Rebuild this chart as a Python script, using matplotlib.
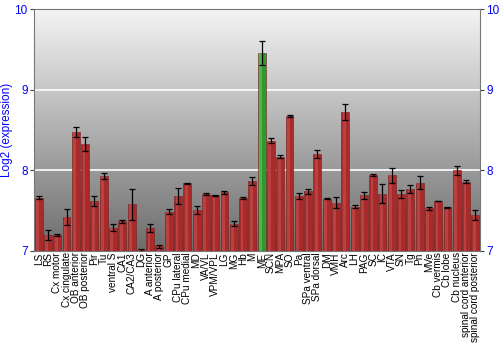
import numpy as np
import matplotlib
matplotlib.use("Agg")
import matplotlib.pyplot as plt

# -----------------------------
# Data
# -----------------------------
regions = [
    "LS", "RS", "Cx motor", "Cx cingulate", "OB anterior", "OB posterior", "Pir", "Tu",
    "ventral S", "CA1", "CA2/CA3", "DG", "A anterior", "A posterior", "GP", "CPu lateral",
    "CPu medial", "MD", "VA/VL", "VPM/VPL", "LG", "MG", "Hb", "M", "ME", "SCN", "MPA",
    "SO", "Pa", "SPa ventral", "SPa dorsal", "DM", "VMH", "Arc", "LH", "PAG", "SC", "IC",
    "VTA", "SN", "Tg", "Pn", "MVe", "Cb vermis", "Cb lobe", "Cb nucleus",
    "spinal cord anterior", "spinal cord posterior",
]
expression = [
    7.66, 7.20, 7.20, 7.42, 8.48, 8.33, 7.62, 7.93,
    7.29, 7.37, 7.58, 7.01, 7.28, 7.06, 7.49, 7.68,
    7.84, 7.51, 7.71, 7.69, 7.73, 7.34, 7.66, 7.87, 9.46, 8.37, 8.17,
    8.68, 7.68, 7.74, 8.21, 7.65, 7.60, 8.73, 7.55, 7.69, 7.94, 7.71,
    7.94, 7.71, 7.77, 7.85, 7.53, 7.62, 7.54, 8.00,
    7.86, 7.45,
]
errors = [
    0.02, 0.06, 0.01, 0.10, 0.06, 0.09, 0.06, 0.04,
    0.04, 0.02, 0.19, 0.02, 0.05, 0.02, 0.03, 0.10,
    0.01, 0.045, 0.01, 0.01, 0.02, 0.03, 0.01, 0.05, 0.15, 0.035, 0.02,
    0.01, 0.04, 0.03, 0.05, 0.01, 0.07, 0.10, 0.015, 0.045, 0.015, 0.12,
    0.09, 0.05, 0.055, 0.08, 0.02, 0.005, 0.005, 0.055,
    0.02, 0.06,
]
highlight = "ME"

BLUE = "#0000ff"
RED = "#a82a2a"
GREEN = "#2e9a2e"

plt.rcParams["font.family"] = ["Liberation Sans", "DejaVu Sans"]

fig = plt.figure(figsize=(5, 3.5), dpi=100)
ax = fig.add_axes([0.068, 0.283, 0.892, 0.690])

x = np.arange(len(regions))
ax.set_xlim(-0.5, len(regions) - 0.5)
ax.set_ylim(7, 10)

# background gradient, light at top, dark at bottom
grad = np.linspace(0, 1, 256).reshape(-1, 1)
bg = matplotlib.colors.LinearSegmentedColormap.from_list("bg", ["#f4f4f4", "#6c6c6c"])
ax.imshow(grad, cmap=bg, aspect="auto", origin="upper",
          extent=(-0.5, len(regions) - 0.5, 7, 10), zorder=0)

for yv in (8, 9):
    ax.axhline(yv, color="white", lw=1.2, zorder=1)

colors = [GREEN if r == highlight else RED for r in regions]
heights = [v - 7 for v in expression]
ax.bar(x, heights, bottom=7, width=0.85, color=colors, edgecolor="#7a1a1a",
       linewidth=0.4, zorder=2)
# soft highlight stripe on each bar
light = ["#66c466" if r == highlight else "#c85050" for r in regions]
ax.bar(x - 0.12, heights, bottom=7, width=0.3, color=light, alpha=0.6,
       linewidth=0, zorder=3)
ax.errorbar(x, expression, yerr=errors, fmt="none", ecolor="black",
            elinewidth=0.9, capsize=2, capthick=0.9, zorder=4)

ax.set_xticks(x)
ax.set_xticklabels(regions, rotation=90, fontsize=7.2, color="black")
ax.tick_params(axis="x", length=0, pad=1)

ax.set_yticks([7, 8, 9, 10])
ax.tick_params(axis="y", colors="#444444", labelcolor=BLUE, labelsize=8.5,
               length=3, pad=1.5, right=True, labelright=True)
ax.set_ylabel("Log2 (expression)", color=BLUE, fontsize=8.5, labelpad=1)

for sp in ax.spines.values():
    sp.set_color("#777777")
    sp.set_linewidth(0.8)

fig.savefig("out.png", dpi=100)
